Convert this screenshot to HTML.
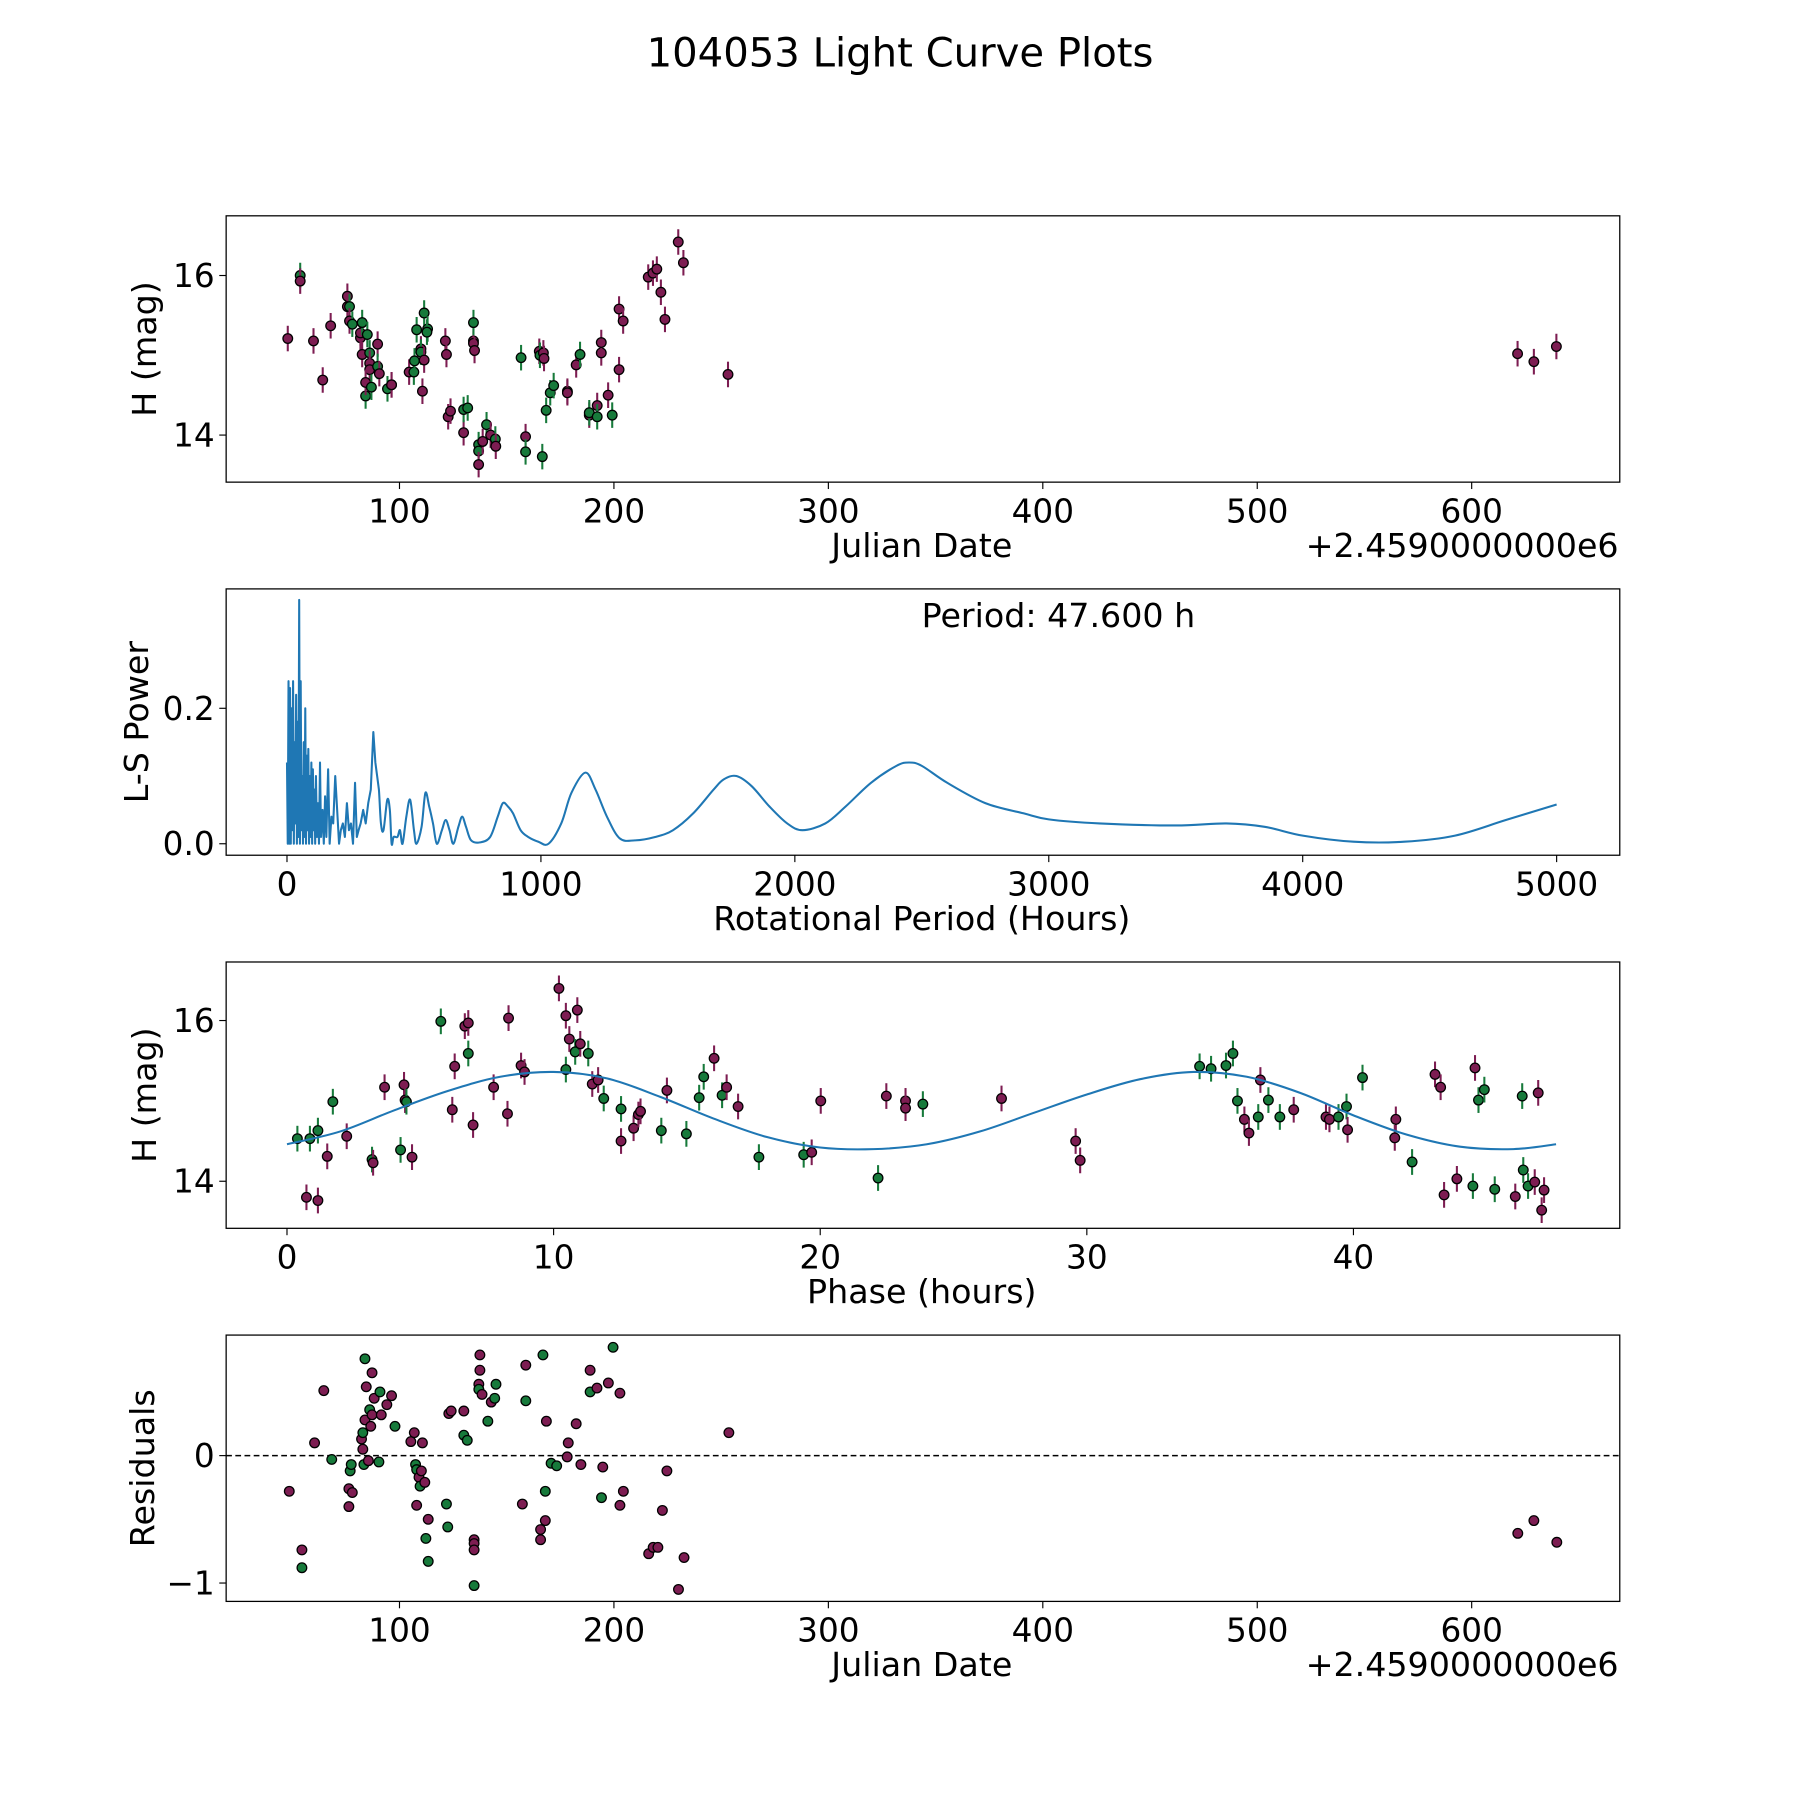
<!DOCTYPE html>
<html><head><meta charset="utf-8"><style>
html,body{margin:0;padding:0;background:#fff}
svg{display:block}
text{font-family:"DejaVu Sans","Liberation Sans",sans-serif;fill:#000}
</style></head>
<body>
<svg id="root" width="1800" height="1800" viewBox="0 0 1568 1568" xmlns="http://www.w3.org/2000/svg">
<rect width="1568" height="1568" fill="#fff"/>
<text x="784" y="58" font-size="35" text-anchor="middle">104053 Light Curve Plots</text>
</svg>
<script>
// ---------- Panel 1: light curve ----------
const lcJD = [47.9,53.7,53.7,59.9,64.2,67.9,75.7,75.7,76.7,76.7,78,81.8,81.8,82.6,82.6,85,86.1,86.1,86.1,84.2,84.2,86.9,89.8,89.8,90.6,94.4,96.3,96.3,104.5,106.7,107,108,110,110,110.7,111.5,111.5,113.1,112.8,121.4,121.9,122.7,123.8,129.9,129.9,131.8,134.5,134.5,135,134.5,136.9,136.9,136.9,138.8,140.6,142.5,144.7,144.9,156.7,158.8,158.8,165.2,165.5,167.1,167.4,166.6,168.4,170.3,171.9,178.3,178.3,182.4,184.2,188.5,188.5,192.2,192.2,194.1,194.1,197.3,199.2,202.4,202.4,204.3,216,218.2,220,221.9,223.8,230,232.4,253.2,621.4,629,639.5];
const lcMag = [15.21,16.0,15.93,15.18,14.69,15.37,15.74,15.61,15.61,15.43,15.39,15.22,15.28,15.41,15.01,15.26,15.03,14.9,14.82,14.49,14.66,14.6,15.14,14.86,14.77,14.58,14.63,14.63,14.79,14.79,14.93,15.32,15.08,15.04,14.55,14.94,15.53,15.33,15.29,15.18,15.01,14.23,14.3,14.03,14.32,14.34,15.18,15.15,15.06,15.41,13.88,13.8,13.63,13.92,14.13,14.0,13.95,13.86,14.97,13.98,13.79,15.05,15.0,15.03,14.96,13.73,14.31,14.53,14.62,14.55,14.53,14.88,15.01,14.25,14.28,14.37,14.23,15.03,15.16,14.5,14.25,15.58,14.82,15.43,15.98,16.03,16.08,15.79,15.45,16.42,16.16,14.76,15.02,14.92,15.11];
const lcBand = "mgmmmmmmgmgmmgmggmmgmgmgmgmmmgggmgmmgggmmmmmggmmmgggmmgmgmgmgmgmmggggmmmgmgmgmmmgmmmmmmmmmmmmm";
// ---------- Panel 2: periodogram ----------
const lsPeriod = [0,3,6,9,12,15,18,21,24,27,30,33,36,39,42,45,48,51,54,57,60,63,66,69,72,75,78,81,84,87,90,93,96,99,102,105,108,111,114,118,122,126,130,134,140,145,150,155,162,168,175,182,190,196,205,212,220,228,236,244,252,260,268,275,282,290,300,310,320,330,340,348,355,362,370,380,395,405,412,420,435,445,455,470,485,500,510,530,545,560,575,590,610,625,640,655,675,690,705,725,760,800,830,850,870,890,920,950,990,1030,1080,1120,1175,1215,1260,1310,1370,1450,1520,1600,1680,1720,1770,1830,1900,1970,2030,2120,2200,2300,2400,2450,2500,2600,2750,2900,3000,3200,3500,3700,3850,4000,4200,4400,4600,4800,5000];
const lsPower = [0.12,0,0.24,0,0.23,0,0.2,0.02,0.24,0,0.15,0.03,0.22,0,0.18,0.01,0.36,0,0.24,0.02,0.1,0,0.15,0.01,0.2,0,0.13,0.02,0.14,0,0.1,0.01,0.12,0,0.11,0.02,0.08,0,0.1,0.01,0.06,0,0.12,0.01,0.05,0,0.07,0.01,0.11,0,0.04,0.03,0.1,0.06,0,0.02,0.03,0.01,0.06,0.02,0.03,0,0.09,0.01,0.02,0.03,0.05,0.03,0.06,0.08,0.165,0.12,0.1,0.08,0.03,0.02,0.065,0.05,0,0.01,0.01,0.02,0,0.04,0.065,0.02,0,0.025,0.075,0.055,0.03,0,0.02,0.035,0.02,0,0.025,0.04,0.025,0.005,0.002,0.01,0.04,0.06,0.055,0.045,0.02,0.01,0.003,0,0.03,0.075,0.105,0.08,0.04,0.008,0.005,0.01,0.02,0.045,0.08,0.095,0.1,0.085,0.055,0.03,0.02,0.03,0.055,0.09,0.115,0.12,0.115,0.09,0.06,0.045,0.036,0.03,0.027,0.03,0.025,0.012,0.003,0.003,0.012,0.035,0.058];
// ---------- Panel 3: phase folded ----------
const phHours = [0.39,0.86,1.16,0.73,1.16,1.51,1.72,2.24,3.19,3.23,3.66,4.26,4.39,4.43,4.48,4.69,5.77,6.2,6.29,6.67,6.8,6.8,6.98,7.75,8.27,8.31,8.78,8.91,10.2,10.46,10.46,10.59,10.81,10.89,11.0,11.3,11.45,11.67,11.88,12.53,12.53,13.0,13.18,13.26,14.04,14.25,14.98,15.46,15.63,16.02,16.32,16.49,16.92,17.7,19.38,19.68,20.02,22.17,22.48,23.2,23.2,23.85,26.8,29.58,29.75,34.23,34.66,35.22,35.48,35.65,35.91,36.08,36.43,36.51,36.81,37.24,37.76,38.97,39.1,39.44,39.74,39.78,40.34,41.59,41.55,42.2,43.06,43.27,43.4,43.88,44.48,44.56,44.69,44.91,45.3,46.07,46.33,46.37,46.55,46.8,46.93,47.15,47.06];
const phMag = [14.53,14.53,14.63,13.8,13.76,14.31,14.99,14.56,14.27,14.23,15.17,14.39,15.2,15.01,14.99,14.3,15.99,14.89,15.43,15.93,15.97,15.59,14.7,15.17,14.84,16.03,15.44,15.36,16.4,16.06,15.39,15.77,15.61,16.13,15.71,15.59,15.21,15.26,15.03,14.5,14.9,14.66,14.83,14.87,14.63,15.13,14.59,15.04,15.3,15.53,15.07,15.17,14.93,14.3,14.33,14.36,15.0,14.04,15.06,15.0,14.91,14.96,15.03,14.5,14.26,15.43,15.4,15.44,15.59,15.0,14.77,14.6,14.8,15.26,15.01,14.8,14.89,14.8,14.77,14.8,14.93,14.64,15.29,14.77,14.54,14.24,15.33,15.17,13.83,14.03,13.94,15.41,15.01,15.14,13.9,13.81,15.06,14.14,13.94,13.99,15.1,13.89,13.64];
const phBand = "gggmmmgmgmmgmmgmgmmmmgmmmmmmmmgmgmmgmmgmgmmmgmgggmgmmggmmgmmmgmmmgggggmmgmggmmmggmgmmgmmmmgmgggmgggmmm";
const fitPhase = [0,2,4,6,8,10,12,14,16,18,20,22,24,26,28,30,32,34,36,38,40,42,44,46,47.6];
const fitMag = [14.46,14.62,14.88,15.12,15.3,15.36,15.28,15.05,14.78,14.55,14.42,14.40,14.46,14.62,14.85,15.08,15.27,15.36,15.3,15.1,14.82,14.58,14.43,14.40,14.46];
// ---------- Panel 4: residuals ----------
const resJD = [48.6,54.5,54.5,60.4,64.7,68.4,76.4,76.4,77.0,77.5,78.0,82.3,82.9,83.4,82.9,83.9,83.9,84.5,85.5,86.1,86.6,87.2,87.2,88.2,90.9,90.4,91.5,94.1,96.3,97.9,105.3,106.9,107.5,108.0,108.0,109.1,109.6,110.2,110.7,111.8,112.3,113.4,113.4,121.9,122.5,123.0,124.1,130.0,130.0,131.6,134.8,134.8,134.8,134.8,137.0,137.0,137.5,137.5,138.5,141.2,142.8,144.4,145.0,157.3,158.9,158.9,165.8,165.8,166.9,168.0,168.0,168.5,170.7,173.3,178.2,178.7,182.4,184.6,188.9,188.9,192.1,194.2,194.8,197.4,199.6,202.8,202.8,204.4,216.2,218.3,220.5,222.6,224.7,230.1,232.7,253.6,621.5,629,639.7];
const resVal = [-0.28,-0.74,-0.88,0.10,0.51,-0.03,-0.26,-0.40,-0.12,-0.07,-0.29,0.13,0.05,-0.07,0.18,0.28,0.76,0.54,-0.04,0.36,0.23,0.65,0.32,0.45,0.50,-0.05,0.32,0.40,0.47,0.23,0.11,0.18,-0.07,-0.11,-0.39,-0.17,-0.24,-0.12,0.10,-0.21,-0.65,-0.50,-0.83,-0.38,-0.56,0.33,0.35,0.16,0.35,0.12,-0.66,-0.69,-0.74,-1.02,0.56,0.52,0.67,0.79,0.48,0.27,0.42,0.45,0.56,-0.38,0.43,0.71,-0.58,-0.66,0.79,-0.51,-0.28,0.27,-0.06,-0.08,-0.01,0.10,0.25,-0.07,0.50,0.67,0.53,-0.33,-0.09,0.57,0.85,-0.39,0.49,-0.28,-0.77,-0.72,-0.72,-0.43,-0.12,-1.05,-0.80,0.18,-0.61,-0.51,-0.68];
const resBand = "mmgmmgmmggmmmggmgmmgmmmmggmmmgmmggmmgmmmgmgggmmgmgmmmgmgmmmgmggmgmmmgmgmggmmmmgmmgmmgmmmmmmmmmm";

const NS = "http://www.w3.org/2000/svg";
const root = document.getElementById('root');
const COL = {m:'#7d1d52', g:'#177a3b'};
function mk(tag, attrs, parent){const e=document.createElementNS(NS,tag);for(const k in attrs)e.setAttribute(k,attrs[k]);(parent||root).appendChild(e);return e;}
function lin(d0,d1,p0,p1){return v=>p0+(v-d0)*(p1-p0)/(d1-d0);}

const P = [
 {y0:188,y1:420},{y0:513,y1:745},{y0:838,y1:1070},{y0:1163,y1:1395}
];
const X0=197, X1=1411;
const xJD = lin(100,600,348,1282);
const y1s = lin(16,14,240,379);
const xLS = lin(0,5000,250,1356);
const yLS = lin(0,0.2,735,617);
const xPH = lin(0,40,250,1179);
const y3s = lin(16,14,889,1029);
const y4s = lin(0,-1,1268,1379);
const TF = 28.5, LF = 29;

function frame(i,name){
  const g = mk('g',{});
  
  
  const r = mk('rect',{x:X0,y:P[i].y0,width:X1-X0,height:P[i].y1-P[i].y0,fill:'none',stroke:'#000','stroke-width':1.1},g);
  
  
  return g;
}
function xtick(g,x,yb,label){
  mk('line',{x1:x,x2:x,y1:yb,y2:yb+6,stroke:'#000','stroke-width':1},g);
  const t=mk('text',{x:x,y:yb+35,'font-size':TF,'text-anchor':'middle'},g);t.textContent=label;
  
  
}
function ytick(g,y,label){
  mk('line',{x1:X0-6,x2:X0,y1:y,y2:y,stroke:'#000','stroke-width':1},g);
  const t=mk('text',{x:X0-10,y:y+10,'font-size':TF,'text-anchor':'end'},g);t.textContent=label;
  
  
}
function label(g,txt,x,y,rot,name){
  const t=mk('text',{x:x,y:y,'font-size':LF,'text-anchor':'middle'},g);
  if(rot)t.setAttribute('transform','rotate(-90 '+x+' '+y+')');
  t.textContent=txt;
  
  
  return t;
}
function clipFor(i){
  const id='clip'+i;
  const c=mk('clipPath',{id:id});
  mk('rect',{x:X0,y:P[i].y0,width:X1-X0,height:P[i].y1-P[i].y0},c);
  return 'url(#'+id+')';
}
function point(g,x,y,band,err,name){
  const pg=mk('g',{},g);
  
  
  if(err>0) mk('line',{x1:x,x2:x,y1:y-err,y2:y+err,stroke:COL[band],'stroke-width':1.8},pg);
  mk('circle',{cx:x,cy:y,r:4.2,fill:COL[band],stroke:'#000','stroke-width':1.1},pg);
}

// Panel 1
{
 const g=frame(0,'light-curve-panel');
 [100,200,300,400,500,600].forEach(v=>xtick(g,xJD(v),420,String(v)));
 [14,16].forEach(v=>ytick(g,y1s(v),String(v)));
 label(g,'Julian Date',803,485,false,'x-axis-title-julian-date');
 const o=mk('text',{x:1410,y:485,'font-size':LF,'text-anchor':'end'},g);o.textContent='+2.4590000000e6';
 
 
 label(g,'H (mag)',136,304,true,'y-axis-title-h-mag');
 const dg=mk('g',{'clip-path':clipFor(0)},g);
 for(let i=0;i<lcJD.length;i++){
   point(dg,xJD(lcJD[i]),y1s(lcMag[i]),lcBand[i]||'m',Math.abs(y1s(0.16)-y1s(0)),'light-curve-point');
 }
}
// Panel 2
{
 const g=frame(1,'periodogram-panel');
 [0,1000,2000,3000,4000,5000].forEach(v=>xtick(g,xLS(v),745,String(v)));
 [[0,'0.0'],[0.2,'0.2']].forEach(a=>ytick(g,yLS(a[0]),a[1]));
 label(g,'Rotational Period (Hours)',803,810,false,'x-axis-title-period');
 label(g,'L-S Power',129,629,true,'y-axis-title-ls-power');
 const t=mk('text',{x:922,y:546,'font-size':LF,'text-anchor':'middle'},g);t.textContent='Period: 47.600 h';
 
 
 const pts=lsPeriod.map((v,i)=>[xLS(v),yLS(lsPower[i])]);
 let d='M'+pts[0][0].toFixed(2)+' '+pts[0][1].toFixed(2);
 for(let i=0;i<pts.length-1;i++){
   if(lsPeriod[i]<360){d+='L'+pts[i+1][0].toFixed(2)+' '+pts[i+1][1].toFixed(2);continue;}
   const p0=pts[Math.max(0,i-1)],p1=pts[i],p2=pts[i+1],p3=pts[Math.min(pts.length-1,i+2)];
   const c1=[p1[0]+(p2[0]-p0[0])/6,p1[1]+(p2[1]-p0[1])/6];
   const c2=[p2[0]-(p3[0]-p1[0])/6,p2[1]-(p3[1]-p1[1])/6];
   d+='C'+c1.map(v=>v.toFixed(2)).join(' ')+' '+c2.map(v=>v.toFixed(2)).join(' ')+' '+p2.map(v=>v.toFixed(2)).join(' ');
 }
 const p=mk('path',{d:d,fill:'none',stroke:'#1f77b4','stroke-width':1.8,'stroke-linejoin':'round'},g);
 
 
}
// Panel 3
{
 const g=frame(2,'phase-folded-panel');
 [0,10,20,30,40].forEach(v=>xtick(g,xPH(v),1070,String(v)));
 [14,16].forEach(v=>ytick(g,y3s(v),String(v)));
 label(g,'Phase (hours)',803,1135,false,'x-axis-title-phase');
 label(g,'H (mag)',136,954,true,'y-axis-title-h-mag-phase');
 const dg=mk('g',{'clip-path':clipFor(2)},g);
 for(let i=0;i<phHours.length;i++){
   point(dg,xPH(phHours[i]),y3s(phMag[i]),phBand[i]||'m',Math.abs(y3s(0.16)-y3s(0)),'phase-point');
 }
 const pts=fitPhase.map((v,i)=>[xPH(v),y3s(fitMag[i])]);
 let d='M'+pts[0][0]+' '+pts[0][1];
 for(let i=0;i<pts.length-1;i++){
   const p0=pts[Math.max(0,i-1)],p1=pts[i],p2=pts[i+1],p3=pts[Math.min(pts.length-1,i+2)];
   const c1=[p1[0]+(p2[0]-p0[0])/6,p1[1]+(p2[1]-p0[1])/6];
   const c2=[p2[0]-(p3[0]-p1[0])/6,p2[1]-(p3[1]-p1[1])/6];
   d+='C'+c1.join(' ')+' '+c2.join(' ')+' '+p2.join(' ');
 }
 const c=mk('path',{d:d,fill:'none',stroke:'#1f77b4','stroke-width':1.8},g);
 
 
}
// Panel 4
{
 const g=frame(3,'residuals-panel');
 [100,200,300,400,500,600].forEach(v=>xtick(g,xJD(v),1395,String(v)));
 [[0,'0'],[-1,'\u22121']].forEach(a=>ytick(g,y4s(a[0]),a[1]));
 label(g,'Julian Date',803,1460,false,'x-axis-title-julian-date-residuals');
 const o=mk('text',{x:1410,y:1460,'font-size':LF,'text-anchor':'end'},g);o.textContent='+2.4590000000e6';
 
 
 label(g,'Residuals',134,1279,true,'y-axis-title-residuals');
 const z=mk('line',{x1:X0,x2:X1,y1:y4s(0),y2:y4s(0),stroke:'#000','stroke-width':1.3,'stroke-dasharray':'5 3'},g);
 
 
 const dg=mk('g',{'clip-path':clipFor(3)},g);
 for(let i=0;i<resJD.length;i++){
   point(dg,xJD(resJD[i]),y4s(resVal[i]),resBand[i]||'m',0,'residual-point');
 }
}
</script>
</body></html>
